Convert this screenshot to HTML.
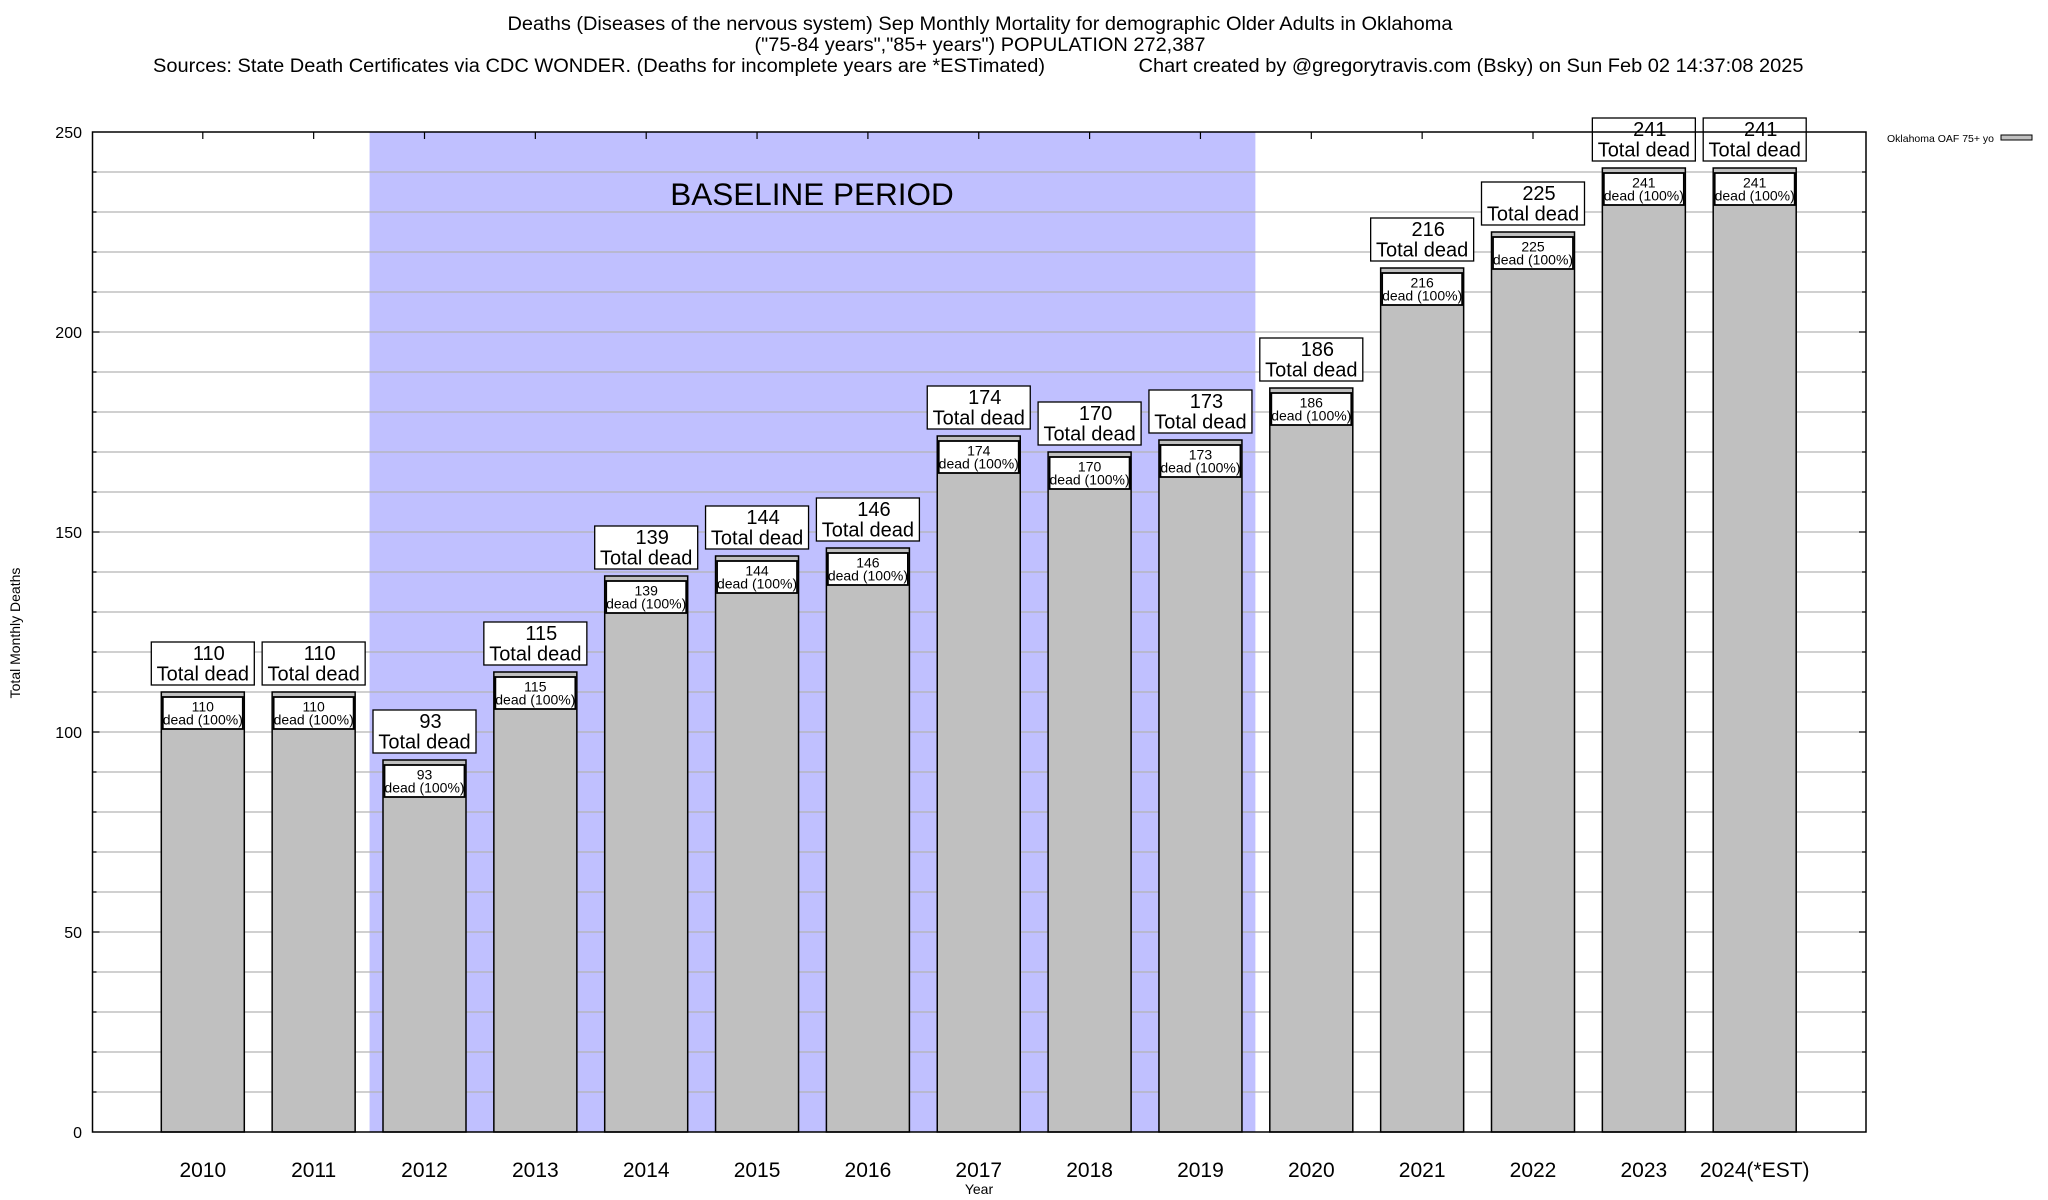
<!DOCTYPE html>
<html><head><meta charset="utf-8"><style>
html,body{margin:0;padding:0;background:#fff;}
svg{display:block;font-family:"Liberation Sans",Arial,sans-serif;}
</style></head><body>
<svg id="chart" width="2048" height="1200" viewBox="0 0 2048 1200" xmlns="http://www.w3.org/2000/svg">
<g font-size="19" text-anchor="middle">
<text x="980" y="30" textLength="945" lengthAdjust="spacingAndGlyphs">Deaths (Diseases of the nervous system) Sep Monthly Mortality for demographic Older Adults in Oklahoma</text>
<text x="980" y="51" textLength="451" lengthAdjust="spacingAndGlyphs">("75-84 years","85+ years") POPULATION 272,387</text>
<text x="599" y="72" textLength="892" lengthAdjust="spacingAndGlyphs">Sources: State Death Certificates via CDC WONDER. (Deaths for incomplete years are *ESTimated)</text>
<text x="1471" y="72" textLength="665" lengthAdjust="spacingAndGlyphs">Chart created by @gregorytravis.com (Bsky) on Sun Feb 02 14:37:08 2025</text>
</g>
<g id="plot"></g>
<text font-size="14" text-anchor="middle" transform="translate(20,633) rotate(-90)">Total Monthly Deaths</text>
<text font-size="14" text-anchor="middle" x="979" y="1194">Year</text>
<g>
<text x="1887" y="142" font-size="10.5" textLength="107" lengthAdjust="spacingAndGlyphs">Oklahoma OAF 75+ yo</text>
<rect x="2001" y="135" width="31" height="5" fill="#c0c0c0" stroke="#000" stroke-width="1"/>
</g>
</svg>
<script>
const categories = ["2010","2011","2012","2013","2014","2015","2016","2017","2018","2019","2020","2021","2022","2023","2024(*EST)"];
const deaths = [110,110,93,115,139,144,146,174,170,173,186,216,225,241,241];
const yTicks = [0,50,100,150,200,250];
const baselineStart = 2;
const baselineEnd = 9;

const NS = "http://www.w3.org/2000/svg";
const plot = document.getElementById("plot");
const L = 92.5, R = 1866, T = 132, B = 1132, yMax = 250;
const step = 110.85, c0 = 202.8, bw = 83;
function y(v){ return B - (v / yMax) * (B - T); }
function xc(i){ return c0 + i * step; }
function mk(tag, attrs, parent){
  const e = document.createElementNS(NS, tag);
  for (const k in attrs) e.setAttribute(k, attrs[k]);
  (parent || plot).appendChild(e);
  return e;
}
const band = mk("rect", {x: xc(baselineStart) - step/2 + 0.5, y: T, width: (xc(baselineEnd) + step/2) - (xc(baselineStart) - step/2) - 1, height: B - T, fill: "#c0c0ff"});


const bt = mk("text", {x: 812, y: 205, "font-size": 31.5, "text-anchor": "middle"});
bt.textContent = "BASELINE PERIOD";


for (let v = 10; v < yMax; v += 10) {
  const g = mk("line", {x1: L, x2: R, y1: y(v), y2: y(v), stroke: "#b4b4b4", "stroke-width": 1.2});
  
  
  const len = v % 50 === 0 ? 7 : 4;
  mk("line", {x1: L, x2: L + len, y1: y(v), y2: y(v), stroke: "#000", "stroke-width": 1.2});
  mk("line", {x1: R, x2: R - len, y1: y(v), y2: y(v), stroke: "#000", "stroke-width": 1.2});
}
yTicks.forEach(v => {
  const t = mk("text", {x: 82, y: y(v) + 6, "font-size": 16, "text-anchor": "end"});
  t.textContent = v;
  
  
});
categories.forEach((c, i) => {
  const cx = xc(i), top = y(deaths[i]);
  mk("line", {x1: cx, x2: cx, y1: T, y2: T + 7, stroke: "#000", "stroke-width": 1.2});
  const bar = mk("rect", {x: cx - bw/2, y: top, width: bw, height: B - top, fill: "#c0c0c0", stroke: "#000", "stroke-width": 1.5});
  
  
  const ib = mk("rect", {x: cx - bw/2 + 1.5, y: top + 5, width: bw - 3, height: 32, fill: "#fff", stroke: "#000", "stroke-width": 1.8});
  
  
  const t1 = mk("text", {x: cx, y: top + 19.5, "font-size": 14, "text-anchor": "middle"});
  t1.textContent = deaths[i];
  const t2 = mk("text", {x: cx, y: top + 32.5, "font-size": 14, "text-anchor": "middle"});
  t2.textContent = "dead (100%)";
  const ob = mk("rect", {x: cx - 51.5, y: top - 50, width: 103, height: 43, fill: "#fff", stroke: "#000", "stroke-width": 1.3});
  
  
  const o1 = mk("text", {x: cx + 6, y: top - 32, "font-size": 20, "text-anchor": "middle"});
  o1.textContent = deaths[i];
  const o2 = mk("text", {x: cx, y: top - 11.5, "font-size": 20, "text-anchor": "middle"});
  o2.textContent = "Total dead";
  const xl = mk("text", {x: cx, y: 1177, "font-size": 21, "text-anchor": "middle"});
  xl.textContent = c;
  
  
});
const fr = mk("rect", {x: L, y: T, width: R - L, height: B - T, fill: "none", stroke: "#000", "stroke-width": 1.5});


</script>
</body></html>
